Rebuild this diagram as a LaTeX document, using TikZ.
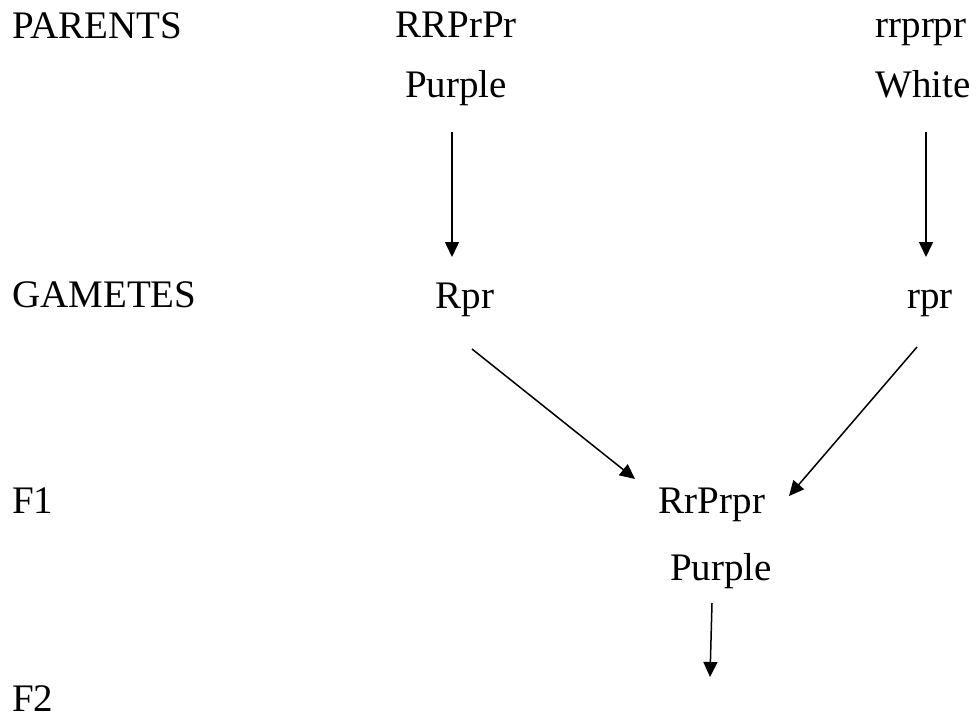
\documentclass[tikz,border=0pt]{standalone}
\usepackage{fontspec}
\setmainfont{Liberation Serif}
\usetikzlibrary{arrows.meta}
\begin{document}
\begin{tikzpicture}[x=1pt,y=-1pt,
  lbl/.style={inner sep=0pt,anchor=base west,font=\fontsize{39}{46}\selectfont},
  gene/.style={inner sep=0pt,anchor=base,font=\fontsize{39}{46}\selectfont},
  arr/.style={line width=1.5pt,-{Triangle[length=15pt,width=14pt]}}]
\useasboundingbox (0,0) rectangle (977,720);
% row labels
\node[lbl] (parents) at (12,38) {PARENTS};
\node[lbl] (gametes) at (12,307) {GAMETES};
\node[lbl] (f1) at (12,513) {F1};
\node[lbl] (f2) at (12,711) {F2};
% parents
\node[gene] (rr) at (456,37) {RRPrPr};
\node[gene] (rw) at (921,37) {rrprpr};
\node[gene] (pur1) at (456,97) {Purple};
\node[gene] (white) at (923,97) {White};
% gametes
\node[gene] (g1) at (465,308) {Rpr};
\node[gene] (g2) at (930,308) {rpr};
% F1
\node[gene] (off) at (712,513) {RrPrpr};
\node[gene] (pur2) at (721,580) {Purple};
\coordinate (f2end) at (710,677);
% connectors
\draw[arr] ([shift={(-4pt,-35pt)}]pur1.base) -- ([shift={(-13pt,51pt)}]g1.base);
\draw[arr] ([shift={(3pt,-35pt)}]white.base) -- ([shift={(-4pt,51pt)}]g2.base);
\draw[arr] ([shift={(7pt,-41pt)}]g1.base) -- ([shift={(-77pt,34pt)}]off.base);
\draw[arr] ([shift={(-13pt,-39pt)}]g2.base) -- ([shift={(77pt,17pt)}]off.base);
\draw[arr] ([shift={(-9pt,-23pt)}]pur2.base) -- (f2end);
\end{tikzpicture}
\end{document}
